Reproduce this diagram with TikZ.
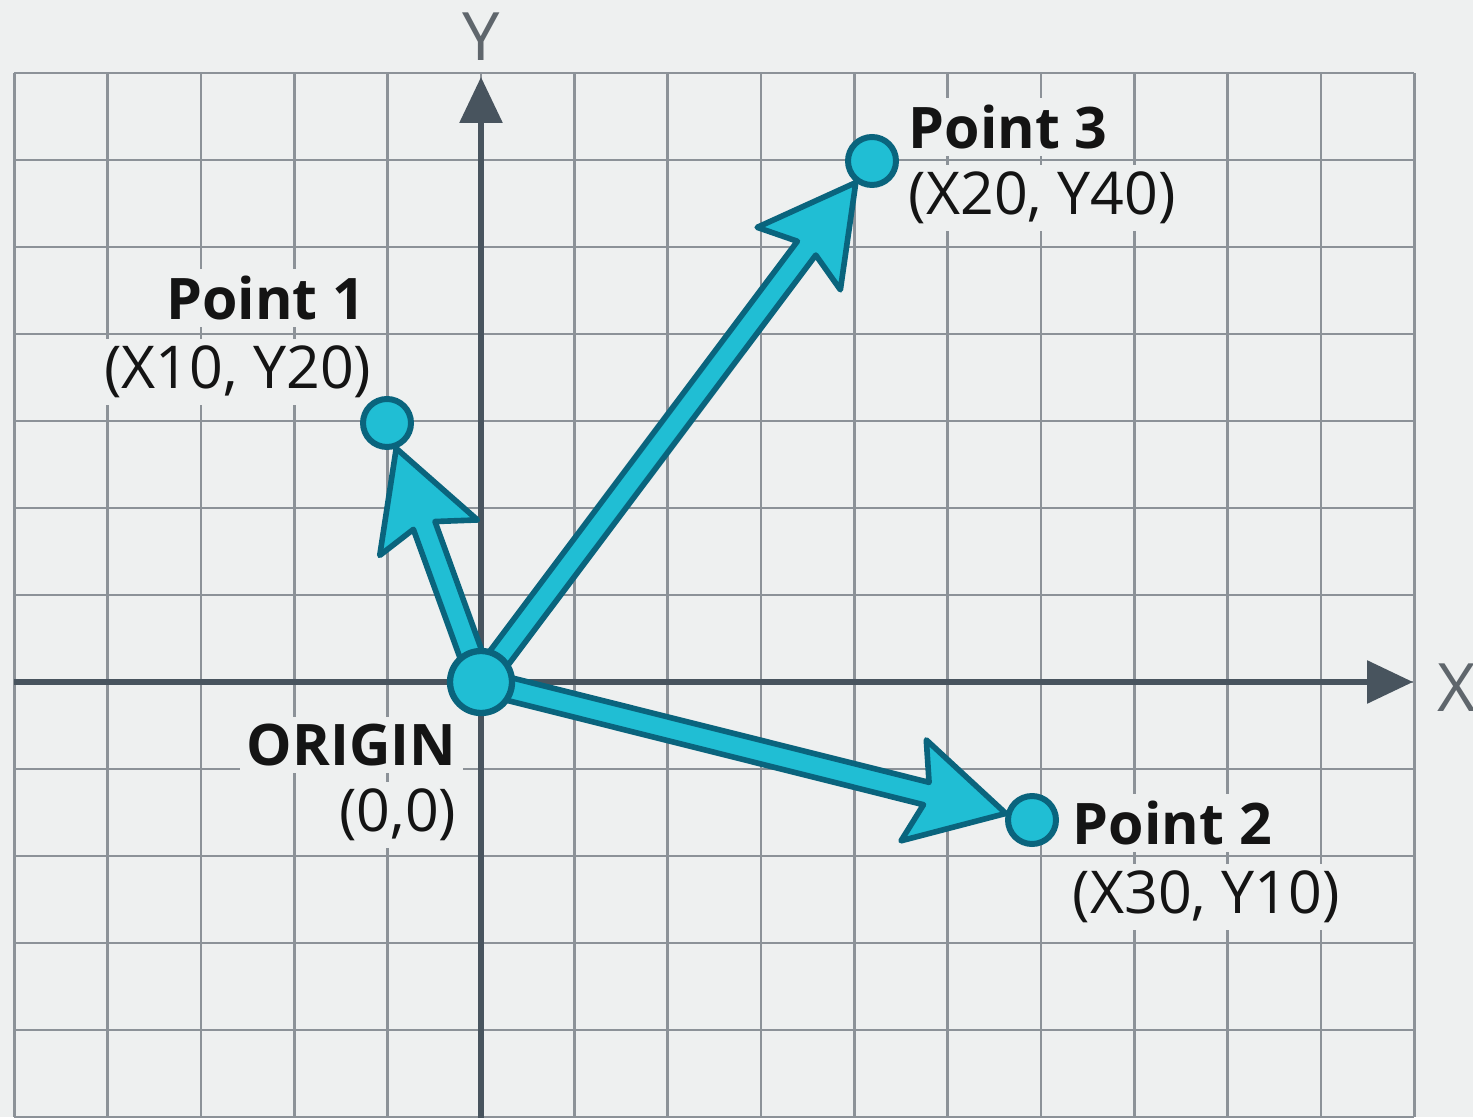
\documentclass[tikz,border=0pt]{standalone}
\usepackage{fontspec}
\setmainfont{Open Sans}
\usetikzlibrary{arrows.meta,calc}
\definecolor{bgc}{RGB}{238,240,240}
\definecolor{gridc}{RGB}{140,146,152}
\definecolor{axisc}{RGB}{72,84,94}
\definecolor{tealf}{RGB}{32,190,212}
\definecolor{teald}{RGB}{10,100,125}
\definecolor{labelc}{RGB}{20,20,20}
\definecolor{axlab}{RGB}{95,102,108}
\pgfdeclarelayer{back}
\pgfdeclarelayer{mid}
\pgfsetlayers{back,mid,main}
\tikzset{
  gridline/.style={draw=gridc, line width=0.75pt},
  axisline/.style={draw=axisc, line width=1.7pt, -{Triangle[length=0.46cm,width=0.42cm]}},
  axislabel/.style={text=axlab, font=\fontsize{19}{22}\selectfont},
  dotsmall/.style={circle, draw=teald, fill=tealf, line width=1.7pt, inner sep=0pt, minimum size=0.48cm},
  dotbig/.style={circle, draw=teald, fill=tealf, line width=1.8pt, inner sep=0pt, minimum size=0.62cm},
  fatarr/.style={draw=teald, fill=tealf, line width=1.6pt, line join=round},
  ptname/.style={fill=bgc, inner sep=2pt, text=labelc, font=\fontsize{16.3}{20}\selectfont\bfseries},
  ptcoord/.style={fill=bgc, inner sep=2pt, text=labelc, font=\fontsize{16.8}{20}\selectfont},
}
\newcommand\fatarrow[3]{%
  \path ($(#2)!#3!(#1)$) coordinate (fT);
  \path ($(fT)!0.95cm!(#1)$) coordinate (fB);
  \path ($(fT)!0.82cm!(#1)$) coordinate (fN);
  \filldraw[fatarr] ($(#1)!0.115cm!90:(fT)$) -- ($(fN)!0.115cm!90:(fT)$)
    -- ($(fB)!0.52cm!90:(fT)$) -- (fT) -- ($(fB)!0.52cm!-90:(fT)$)
    -- ($(fN)!0.115cm!-90:(fT)$) -- ($(#1)!0.115cm!-90:(fT)$) -- cycle;
}
\begin{document}
\begin{tikzpicture}
\useasboundingbox (0,0) rectangle (14.73,11.17);
% points
\node[dotbig] (o) at (4.81,4.35) {};
\node[dotsmall] (p1) at (3.87,6.94) {};
\node[dotsmall] (p2) at (10.32,2.97) {};
\node[dotsmall] (p3) at (8.72,9.56) {};
\begin{pgfonlayer}{back}
  \fill[bgc] (0,0) rectangle (14.73,11.17);
  \foreach \i in {-5,...,10}
    \draw[gridline] ({4.81+0.9333*\i},0) -- ({4.81+0.9333*\i},10.44);
  \foreach \j in {-5,...,7}
    \draw[gridline] (0.143,{4.35+0.87*\j}) -- (14.14,{4.35+0.87*\j});
  % labels
  \node[ptname, anchor=east] (l1a) at (3.73,8.19) {Point 1};
  \node[ptcoord, anchor=east] (l1b) at (3.79,7.45) {(X10, Y20)};
  \node[ptname, anchor=west] (l3a) at (9.01,9.90) {Point 3};
  \node[ptcoord, anchor=west] (l3b) at (9.01,9.19) {(X20, Y40)};
  \node[ptname, anchor=east] (loa) at (4.64,3.72) {ORIGIN};
  \node[ptcoord, anchor=east] (lob) at (4.64,3.02) {(0,0)};
  \node[ptname, anchor=west] (l2a) at (10.65,2.94) {Point 2};
  \node[ptcoord, anchor=west] (l2b) at (10.65,2.20) {(X30, Y10)};
  % axes
  \coordinate (ybot) at (4.81,-0.1);
  \coordinate (ytop) at (4.81,10.40);
  \coordinate (xl) at (0.143,4.35);
  \coordinate (xr) at (14.13,4.35);
  \draw[axisline] (ybot) -- (ytop);
  \draw[axisline] (xl) -- (xr);
  \node[axislabel] (ylab) at (4.81,10.80) {Y};
  \node[axislabel, anchor=west] (xlab) at (14.25,4.29) {X};
\end{pgfonlayer}
\begin{pgfonlayer}{mid}
  \fatarrow{o}{p1}{0.27cm}
  \fatarrow{o}{p3}{0.27cm}
  \fatarrow{o}{p2}{0.27cm}
\end{pgfonlayer}
\end{tikzpicture}
\end{document}
